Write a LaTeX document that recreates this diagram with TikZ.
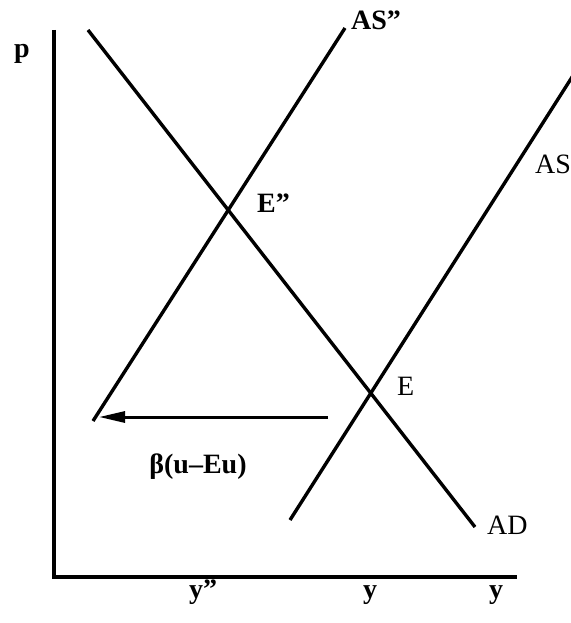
\documentclass[tikz,border=0pt]{standalone}
\usepackage{fontspec}
\setmainfont{Liberation Serif}
\usetikzlibrary{arrows.meta}
\begin{document}
\begin{tikzpicture}[x=1pt,y=-1pt,
  curve/.style={line width=3.4pt},
  axis/.style={line width=4pt},
  lab/.style={inner sep=0pt,font=\fontsize{28}{30}\selectfont},
  blab/.style={lab,font=\fontsize{28}{30}\selectfont\bfseries}]
\useasboundingbox (0,0) rectangle (570,623);
% axes
\coordinate (O) at (54,577);
\coordinate (top) at (54,30);
\coordinate (right) at (517,577);
\draw[axis] (top) -- (O) -- (right);
% curves
\coordinate (ad1) at (88,30);
\coordinate (ad2) at (475,527);
\draw[curve] (ad1) -- (ad2);
\coordinate (asp1) at (93,421);
\coordinate (asp2) at (345,28);
\draw[curve] (asp1) -- (asp2);
\coordinate (as1) at (290,520);
\coordinate (as2) at (574,74);
\draw[curve] (as1) -- (as2);
% arrow
\coordinate (arrS) at (328,417);
\coordinate (arrE) at (99,417);
\draw[line width=3pt,-{Triangle[length=26pt,width=11pt]}] (arrS) -- (arrE);
% labels
\node[blab,anchor=base] (p) at (22,58) {p};
\node[blab,anchor=base west] (lasp) at (351,30) {AS”};
\node[lab,anchor=base west] (las) at (535,173) {AS};
\node[blab,anchor=base west] (lEp) at (257,212) {E”};
\node[lab,anchor=base west] (lE) at (397,395) {E};
\node[lab,anchor=base west] (lad) at (487,534) {AD};
\node[blab,anchor=base] (lbeta) at (198,473) {β(u–Eu)};
\node[blab,anchor=base] (ly2) at (203,598) {y”};
\node[blab,anchor=base] (ly) at (370,598) {y};
\node[blab,anchor=base] (ly1) at (496,598) {y};
\end{tikzpicture}
\end{document}
